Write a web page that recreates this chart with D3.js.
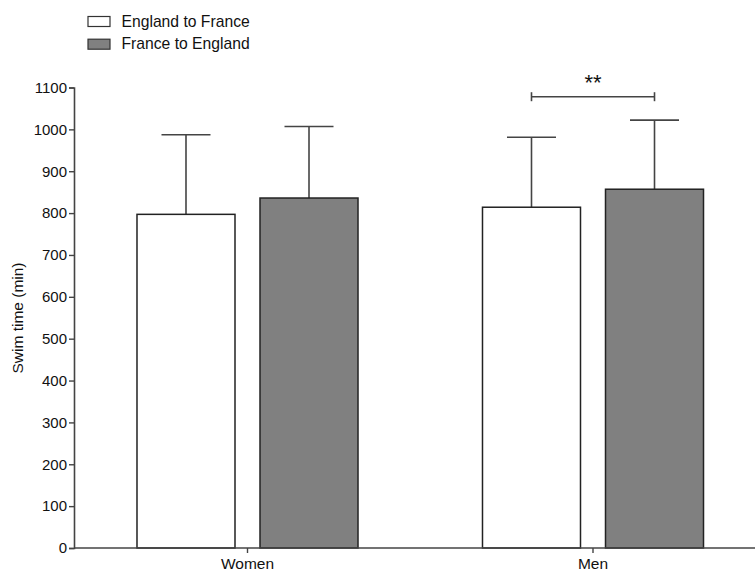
<!DOCTYPE html>
<html>
<head>
<meta charset="utf-8">
<script src="https://cdn.jsdelivr.net/npm/d3@7"></script>
<style>
  html, body { margin: 0; padding: 0; background: #fff; }
  svg { display: block; font-family: "Liberation Sans", Arial, sans-serif; }
</style>
</head>
<body>
<svg id="chart" width="755" height="571"></svg>
<script>
// ---- data ----
const groups = ["Women", "Men"];
const seriesNames = ["England to France", "France to England"];
const seriesFill = ["#ffffff", "#808080"];
const meanEtoF = [797, 814];
const meanFtoE = [836, 857];
const errTopEtoF = [987, 981];   // mean + SD
const errTopFtoE = [1007, 1022];
const yTicks = [0, 100, 200, 300, 400, 500, 600, 700, 800, 900, 1000, 1100];
const sigLabel = "**";
const sigValue = 1078;

const svg = d3.select("#chart");
const axisColor = "#444";
const textColor = "#111";

const y = d3.scaleLinear().domain([0, 1100]).range([548, 87.5]);
const x = d3.scaleBand().domain(groups).range([74.75, 765.75]).paddingInner(0).paddingOuter(0);
const xi = d3.scaleBand().domain(seriesNames).range([0, x.bandwidth()])
  .paddingInner(25 / 123).paddingOuter(0.506);

const rows = [];
groups.forEach((g, gi) => {
  rows.push({ g, s: seriesNames[0], fill: seriesFill[0], v: meanEtoF[gi], e: errTopEtoF[gi] });
  rows.push({ g, s: seriesNames[1], fill: seriesFill[1], v: meanFtoE[gi], e: errTopFtoE[gi] });
});
const cx = d => x(d.g) + xi(d.s) + xi.bandwidth() / 2;

// error bars (behind bars)
const eb = svg.append("g").attr("stroke", axisColor).attr("stroke-width", 1.6);
eb.selectAll("line.v").data(rows).join("line")
  .attr("x1", cx).attr("x2", cx)
  .attr("y1", d => y(d.v)).attr("y2", d => y(d.e));
eb.selectAll("line.c").data(rows).join("line")
  .attr("x1", d => cx(d) - xi.bandwidth() / 4).attr("x2", d => cx(d) + xi.bandwidth() / 4)
  .attr("y1", d => y(d.e)).attr("y2", d => y(d.e));

// bars
svg.append("g").selectAll("rect").data(rows).join("rect")
  .attr("x", d => x(d.g) + xi(d.s))
  .attr("y", d => y(d.v))
  .attr("width", xi.bandwidth())
  .attr("height", d => y(0) - y(d.v))
  .attr("fill", d => d.fill)
  .attr("stroke", "#222")
  .attr("stroke-width", 1.5);

// y axis
const yAxis = svg.append("g").attr("transform", "translate(74,0)")
  .call(d3.axisLeft(y).tickValues(yTicks).tickSize(5).tickPadding(2).tickFormat(d3.format("d")));
yAxis.select(".domain").attr("stroke", axisColor).attr("stroke-width", 1.6);
yAxis.selectAll(".tick line").attr("stroke", axisColor).attr("stroke-width", 1.4);
yAxis.selectAll(".tick text").attr("fill", textColor)
  .style("font-size", "15px").style("font-family", "'Liberation Sans', Arial, sans-serif");

// x axis
const xAxis = svg.append("g").attr("transform", "translate(0,548)")
  .call(d3.axisBottom(x).tickSizeInner(5).tickSizeOuter(0).tickPadding(5));
xAxis.select(".domain").attr("stroke", axisColor).attr("stroke-width", 1.6)
  .attr("d", "M74,0H755");
xAxis.selectAll(".tick line").attr("stroke", axisColor).attr("stroke-width", 1.4);
xAxis.selectAll(".tick text").attr("fill", textColor)
  .style("font-size", "15.5px").style("font-family", "'Liberation Sans', Arial, sans-serif");

// y label
svg.append("text")
  .attr("transform", "translate(22.5,318) rotate(-90)")
  .attr("text-anchor", "middle")
  .attr("fill", textColor)
  .style("font-size", "15.5px")
  .text("Swim time (min)");

// significance bracket
const men = rows.filter(r => r.g === "Men");
const bx1 = cx(men[0]), bx2 = cx(men[1]), by = y(sigValue);
const br = svg.append("g").attr("stroke", axisColor).attr("stroke-width", 1.6).attr("fill", "none");
br.append("line").attr("x1", bx1).attr("x2", bx2).attr("y1", by).attr("y2", by);
br.append("line").attr("x1", bx1).attr("x2", bx1).attr("y1", by - 4.5).attr("y2", by + 4.5);
br.append("line").attr("x1", bx2).attr("x2", bx2).attr("y1", by - 4.5).attr("y2", by + 4.5);
svg.append("text")
  .attr("x", (bx1 + bx2) / 2).attr("y", by - 7)
  .attr("text-anchor", "middle").attr("fill", textColor)
  .style("font-size", "22px")
  .text(sigLabel);

// legend
const lg = svg.append("g");
seriesNames.forEach((s, i) => {
  const yy = 16.5 + i * 22.7;
  lg.append("rect").attr("x", 88).attr("y", yy).attr("width", 22).attr("height", 10)
    .attr("fill", seriesFill[i]).attr("stroke", "#333").attr("stroke-width", 1.2);
  lg.append("text").attr("x", 121.5).attr("y", yy + 10.2)
    .attr("fill", textColor).style("font-size", "15.7px").text(s);
});
</script>
</body>
</html>
